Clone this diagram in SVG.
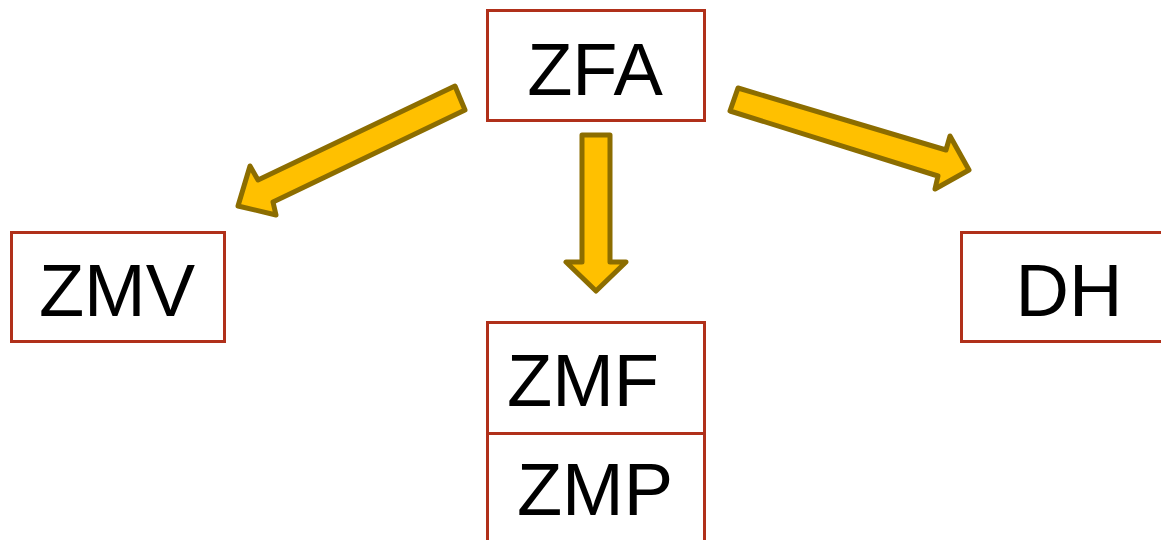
<svg xmlns="http://www.w3.org/2000/svg" width="1161" height="540" viewBox="0 0 1161 540">
<style>
.box{fill:#fff;stroke:#b0301a;stroke-width:3}
.lbl{font-family:"Liberation Sans",Arial,sans-serif;font-size:74px;fill:#000}
.arr{fill:#ffc000;stroke:#8c6d00;stroke-width:5;stroke-linejoin:round}
</style>
<rect width="1161" height="540" fill="#fff"/>
<g id="connectors">
<polygon class="arr" points="455,86 465,110 273,202 276,215 238,206 250,166 258,180"/>
<polygon class="arr" points="582,135 610,135 610,262 626,262 596,291 566,262 582,262"/>
<polygon class="arr" points="738,88 730,111 938,176 935,189 969,170 950,136 946,150"/>
</g>
<g id="ZFA"><rect class="box" x="487.5" y="10.5" width="217" height="110"/><text class="lbl" x="595" y="95" text-anchor="middle">ZFA</text></g>
<g id="ZMV"><rect class="box" x="11.5" y="232.5" width="213" height="109"/><text class="lbl" x="117" y="316" text-anchor="middle">ZMV</text></g>
<g id="DH"><rect class="box" x="961.5" y="232.5" width="210" height="109"/><text class="lbl" x="1069" y="316" text-anchor="middle">DH</text></g>
<g id="ZMF"><rect class="box" x="487.5" y="322.5" width="217" height="111"/><text class="lbl" x="507" y="406">ZMF</text></g>
<g id="ZMP"><rect class="box" x="487.5" y="433.5" width="217" height="120"/><text class="lbl" x="595" y="515" text-anchor="middle">ZMP</text></g>
</svg>
